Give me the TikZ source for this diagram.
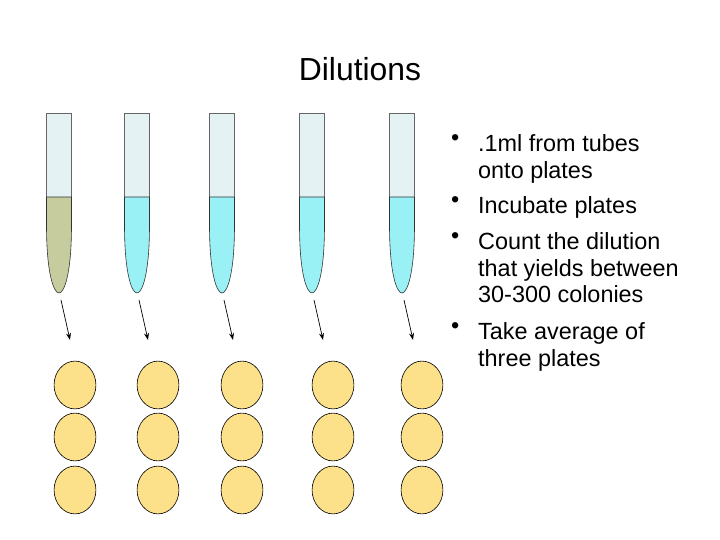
\documentclass[tikz,border=0pt]{standalone}
\usepackage{fontspec}
\setmainfont{Liberation Sans}
\usetikzlibrary{arrows.meta,shapes.geometric}
\definecolor{glass}{HTML}{E4F2F4}
\definecolor{olive}{HTML}{C6CC9E}
\definecolor{aqua}{HTML}{99F0F5}
\definecolor{agar}{HTML}{FCE08A}
\tikzset{
  tube/.style={draw=gray!80!black, fill=glass, line width=0.8pt},
  liquid/.style={draw=black!80, line width=0.6pt},
  plate/.style={draw=black, fill=agar, ellipse, minimum width=42, minimum height=48, inner sep=0pt, line width=0.6pt},
  drop/.style={-{Stealth[length=7pt,width=5pt]}, line width=0.7pt},
  note/.style={anchor=north west, align=left, inner sep=0pt, font=\fontsize{23.5}{27}\selectfont},
  dot/.style={anchor=north west, inner sep=0pt, font=\fontsize{23.5}{27}\selectfont}
}
\begin{document}
\begin{tikzpicture}[x=1bp,y=-1bp]
\useasboundingbox (0,0) rectangle (720,540);
\node[font=\fontsize{32}{36}\selectfont] (title) at (360,69) {Dilutions};

\foreach \i/\xc/\xp/\col in {1/59/75/olive, 2/137/158/aqua, 3/222/242/aqua, 4/312/333/aqua, 5/402/422/aqua} {
  \draw[tube] (\xc-12.5,113) rectangle (\xc+12.5,197);
  \draw[liquid, fill=\col] (\xc-12.5,197) -- (\xc-12.5,225)
    .. controls (\xc-12.5,275) and (\xc-5,293) .. (\xc,293)
    .. controls (\xc+5,293) and (\xc+12.5,275) .. (\xc+12.5,225)
    -- (\xc+12.5,197) -- cycle;
  \coordinate (tip\i) at (\xc+2,300);
  \coordinate (land\i) at (\xc+11,340);
  \draw[drop] (tip\i) -- (land\i);
  \node[plate] (p\i a) at (\xp,385) {};
  \node[plate] (p\i b) at (\xp,437) {};
  \node[plate] (p\i c) at (\xp,490) {};
}

% bullet list
\foreach \y/\txt in {134/{.1ml from tubes\\onto plates}, 196/{Incubate plates}, 232/{Count the dilution\\that yields between\\30-300 colonies}, 322/{Take average of\\three plates}} {
  \node[dot] at (451,\y) {\textbullet};
  \node[note] at (478,\y) {\txt};
}
\end{tikzpicture}
\end{document}
